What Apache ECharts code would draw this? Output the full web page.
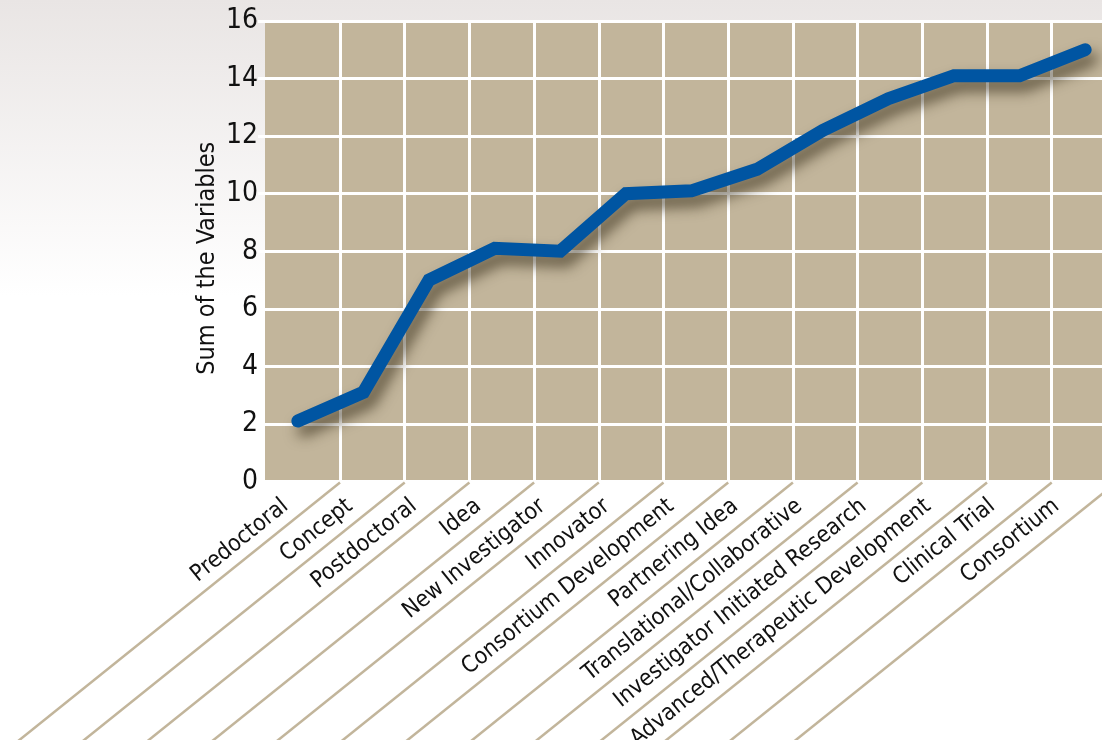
<!DOCTYPE html>
<html>
<head>
<meta charset="utf-8">
<script src="https://cdn.jsdelivr.net/npm/echarts@6/dist/echarts.min.js"></script>
<style>
html,body{margin:0;padding:0;background:#fff;overflow:hidden;width:1102px;height:740px;}
#chart{width:1200px;height:740px;}
</style>
</head>
<body>
<div id="chart"></div>
<script>
// ---- data ----
const categories = [
  'Predoctoral', 'Concept', 'Postdoctoral', 'Idea', 'New Investigator', 'Innovator',
  'Consortium Development', 'Partnering Idea', 'Translational/Collaborative',
  'Investigator Initiated Research', 'Advanced/Therapeutic Development',
  'Clinical Trial', 'Consortium'
];
const sumOfVariables = [2.1, 3.1, 7.0, 8.1, 8.0, 10.0, 10.1, 10.85, 12.2, 13.3, 14.1, 14.1, 15.0];
const yTicks = [0, 2, 4, 6, 8, 10, 12, 14, 16];
const guideLines = [0, 1, 2, 3, 4, 5, 6, 7, 8, 9, 10, 11, 12];
const yAxisTitle = 'Sum of the Variables';

// ---- style ----
const TAN = '#c2b59b';
const FONT = '"Liberation Sans Narrow", "DejaVu Sans Condensed", "Liberation Sans", sans-serif';

const chart = echarts.init(document.getElementById('chart'), null, {renderer: 'canvas'});

// canvas is 1200 wide; the page window shows the left 1102 px
const option = {
  animation: false,
  backgroundColor: {
    type: 'linear', x: 0, y: 0, x2: 0, y2: 1,
    colorStops: [
      {offset: 0, color: '#e9e5e4'},
      {offset: 0.4, color: '#ffffff'},
      {offset: 1, color: '#ffffff'}
    ]
  },
  grid: [
    // main plot (background, horizontal grid, line)
    {left: 265, top: 21, right: 82, bottom: 258.5, show: true, backgroundColor: TAN, borderWidth: 0,
     containLabel: false, outerBoundsMode: 'none'},
    // vertical grid lines + diagonal guides
    {left: 340, top: 21, right: 51.25, bottom: 258.5, show: false,
     containLabel: false, outerBoundsMode: 'none'},
    // category labels
    {left: 285.5, top: 21, right: 143.5, bottom: 258.5, show: false,
     containLabel: false, outerBoundsMode: 'none'}
  ],
  xAxis: [
    {
      gridIndex: 0, type: 'category', data: categories, boundaryGap: true,
      axisLine: {show: false}, axisTick: {show: false}, axisLabel: {show: false}, splitLine: {show: false}
    },
    {
      gridIndex: 1, type: 'value', min: 0, max: 12.5, interval: 1,
      axisLine: {show: false}, axisTick: {show: false}, axisLabel: {show: false},
      splitLine: {show: true, lineStyle: {color: '#ffffff', width: 3}}
    },
    {
      gridIndex: 2, type: 'category', data: categories, boundaryGap: false,
      axisLine: {show: false}, axisTick: {show: false}, splitLine: {show: false},
      axisLabel: {
        show: true, interval: 0, rotate: 39, margin: 22,
        color: '#111', fontSize: 23, fontFamily: FONT
      }
    }
  ],
  yAxis: [
    {
      gridIndex: 0, type: 'value', min: yTicks[0], max: yTicks[yTicks.length - 1], interval: 2,
      name: yAxisTitle, nameLocation: 'middle', nameRotate: 90, nameGap: 45, nameMoveOverlap: false,
      nameTextStyle: {color: '#111', fontSize: 25, fontFamily: FONT, padding: [0, 14, 0, 0]},
      axisLine: {show: false},
      axisTick: {show: true, length: 7, lineStyle: {color: '#ffffff', width: 3}},
      axisLabel: {color: '#111', fontSize: 28, fontFamily: FONT, margin: 7},
      splitLine: {show: true, lineStyle: {color: '#ffffff', width: 3}}
    },
    {
      gridIndex: 1, type: 'value', min: 0, max: 1, show: false
    },
    {
      gridIndex: 2, type: 'value', min: 0, max: 1, show: false
    }
  ],
  series: [
    {
      type: 'custom',
      xAxisIndex: 1, yAxisIndex: 1,
      clip: false, silent: true, z: 1,
      data: guideLines.map(function (k) { return [k]; }),
      encode: {x: 0},
      renderItem: function (params, api) {
        const p = api.coord([api.value(0), 0]);
        const dy = 420;
        return {
          type: 'line',
          shape: {x1: p[0], y1: p[1] + 1, x2: p[0] - dy * 1.245, y2: p[1] + 1 + dy},
          style: {stroke: TAN, lineWidth: 2.5}
        };
      }
    },
    {
      type: 'line',
      xAxisIndex: 0, yAxisIndex: 0,
      data: sumOfVariables,
      symbol: 'none',
      z: 5,
      lineStyle: {
        color: '#0055a2', width: 13, cap: 'round', join: 'miter',
        shadowColor: 'rgba(45, 35, 15, 0.65)', shadowBlur: 14, shadowOffsetX: 6, shadowOffsetY: 9
      }
    }
  ]
};

chart.setOption(option);
</script>
</body>
</html>
